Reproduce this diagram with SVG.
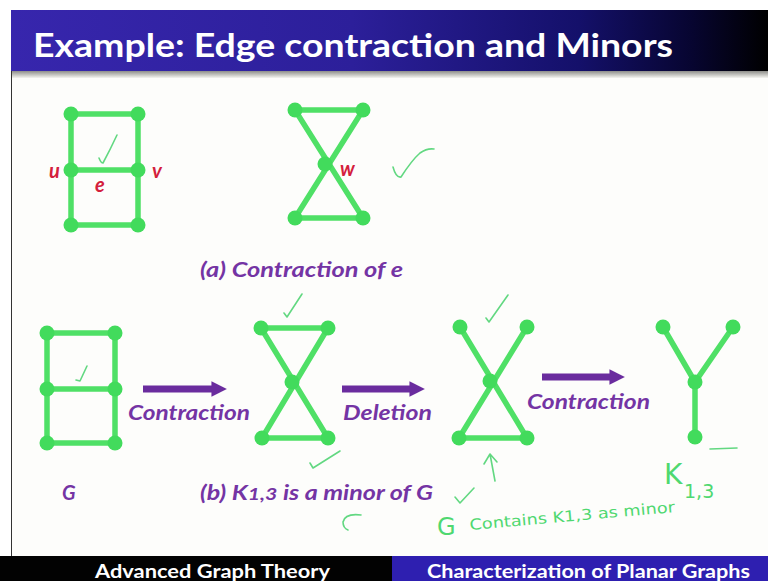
<svg xmlns="http://www.w3.org/2000/svg" width="768" height="581" viewBox="0 0 768 581">
<defs>
<linearGradient id="tg" x1="0" y1="0" x2="1" y2="0">
<stop offset="0" stop-color="#3726ad"/>
<stop offset="0.45" stop-color="#2c1f9a"/>
<stop offset="0.75" stop-color="#14106a"/>
<stop offset="0.9" stop-color="#070530"/>
<stop offset="1" stop-color="#000000"/>
</linearGradient>
<linearGradient id="sg" x1="0" y1="0" x2="0" y2="1">
<stop offset="0" stop-color="#8e8e8a"/>
<stop offset="1" stop-color="#f4f4f0"/>
</linearGradient>
<marker id="ah" viewBox="0 0 10 10" refX="1" refY="5" markerWidth="2.2" markerHeight="2.6" orient="auto" markerUnits="strokeWidth">
<path d="M0,0 L10,5 L0,10 Z" fill="#6a2c9e"/>
</marker>
</defs>
<style>
.e{stroke:#4fe066;stroke-width:5.5;stroke-linecap:round;fill:none}
.n{fill:#42db5c}
.lbl{font-family:Lato,"Liberation Sans",sans-serif;font-style:italic;font-weight:bold;fill:#7434a4}
.red{font-family:Lato,"Liberation Sans",sans-serif;font-style:italic;font-weight:bold;fill:#d4203c}
.hw{stroke:#62d881;stroke-width:1.6;fill:none;stroke-linecap:round;stroke-linejoin:round}
.hwt{font-family:"DejaVu Sans","Liberation Sans",sans-serif;fill:#4fd870}
.arr{stroke:#6a2c9e;stroke-width:7;fill:none}
.bar{font-family:Lato,"Liberation Sans",sans-serif;font-weight:bold;fill:#ffffff}
</style>
<rect x="0" y="0" width="768" height="581" fill="#ffffff"/>
<rect x="11" y="10" width="757" height="546" fill="#fdfdfb"/>
<line x1="11.5" y1="10" x2="11.5" y2="556" stroke="#333" stroke-width="1"/>
<rect x="11" y="10" width="757" height="61" fill="url(#tg)"/>
<rect x="12" y="71" width="756" height="7" fill="url(#sg)"/>
<text x="33" y="57" font-family="Lato,'Liberation Sans',sans-serif" font-weight="bold" font-size="33" fill="#ffffff" textLength="640" lengthAdjust="spacingAndGlyphs">Example: Edge contraction and Minors</text>

<g id="connectors">
<line class="arr" x1="143" y1="389" x2="213" y2="389" marker-end="url(#ah)"/>
<line class="arr" x1="342" y1="389" x2="411" y2="389" marker-end="url(#ah)"/>
<line class="arr" x1="542" y1="377" x2="611" y2="377" marker-end="url(#ah)"/>
</g>

<g id="graph-a-left">
<path class="e" d="M71,114 H138 V225 H71 Z M71,170 H138"/>
<circle class="n" cx="71" cy="114" r="7.5"/><circle class="n" cx="138" cy="114" r="7.5"/>
<circle class="n" cx="71" cy="170" r="7.5"/><circle class="n" cx="138" cy="170" r="7.5"/>
<circle class="n" cx="71" cy="225" r="7.5"/><circle class="n" cx="138" cy="225" r="7.5"/>
<text class="red" x="49" y="178" font-size="20">u</text>
<text class="red" x="95" y="192" font-size="20">e</text>
<text class="red" x="152" y="178" font-size="20">v</text>
</g>

<g id="graph-a-right">
<path class="e" d="M295,110 H363 L295,218 H363 Z"/>
<circle class="n" cx="295" cy="110" r="7.5"/><circle class="n" cx="363" cy="110" r="7.5"/>
<circle class="n" cx="325" cy="164" r="7.5"/>
<circle class="n" cx="295" cy="218" r="7.5"/><circle class="n" cx="363" cy="218" r="7.5"/>
<text class="red" x="340" y="176" font-size="20">w</text>
</g>

<text class="lbl" x="200" y="277" font-size="20" textLength="203" lengthAdjust="spacingAndGlyphs">(a) Contraction of e</text>

<g id="graph-G">
<path class="e" d="M47,333 H115 V443 H47 Z M47,389 H115"/>
<circle class="n" cx="47" cy="333" r="7.5"/><circle class="n" cx="115" cy="333" r="7.5"/>
<circle class="n" cx="47" cy="389" r="7.5"/><circle class="n" cx="115" cy="389" r="7.5"/>
<circle class="n" cx="47" cy="443" r="7.5"/><circle class="n" cx="115" cy="443" r="7.5"/>
</g>

<g id="graph-hourglass">
<path class="e" d="M261,328 H328 L262,438 H328 Z"/>
<circle class="n" cx="261" cy="328" r="7.5"/><circle class="n" cx="328" cy="328" r="7.5"/>
<circle class="n" cx="292" cy="382" r="7.5"/>
<circle class="n" cx="262" cy="438" r="7.5"/><circle class="n" cx="328" cy="438" r="7.5"/>
</g>

<g id="graph-X">
<path class="e" d="M460,327 L527,438 H459 L527,327"/>
<circle class="n" cx="460" cy="327" r="7.5"/><circle class="n" cx="527" cy="327" r="7.5"/>
<circle class="n" cx="490" cy="381" r="7.5"/>
<circle class="n" cx="459" cy="438" r="7.5"/><circle class="n" cx="527" cy="438" r="7.5"/>
</g>

<g id="graph-Y">
<path class="e" d="M663,327 L695,382 L733,327 M695,382 V437"/>
<circle class="n" cx="663" cy="327" r="7.5"/><circle class="n" cx="733" cy="327" r="7.5"/>
<circle class="n" cx="695" cy="382" r="7.5"/><circle class="n" cx="695" cy="437" r="7.5"/>
</g>

<text class="lbl" x="128" y="420" font-size="20" textLength="122" lengthAdjust="spacingAndGlyphs">Contraction</text>
<text class="lbl" x="343" y="420" font-size="20" textLength="89" lengthAdjust="spacingAndGlyphs">Deletion</text>
<text class="lbl" x="527" y="409" font-size="20" textLength="123" lengthAdjust="spacingAndGlyphs">Contraction</text>
<text class="lbl" x="62" y="500" font-size="20">G</text>
<text class="lbl" x="200" y="500" font-size="20" textLength="233" lengthAdjust="spacingAndGlyphs">(b) K<tspan font-size="17">1,3</tspan> is a minor of G</text>

<g id="annotations">
<path class="hw" d="M99,158 Q101,163 103,163 Q110,150 117,135"/>
<path class="hw" d="M393,167 Q396,178 401,177 Q412,160 420,153 Q427,148 434,149"/>
<path class="hw" d="M76,380 L80,381 L87,366"/>
<path class="hw" d="M284,313 L287,317 L302,294"/>
<path class="hw" d="M310,463 L313,468 L340,451"/>
<path class="hw" d="M361,515 Q345,513 343,522 Q343,528 348,530"/>
<path class="hw" d="M486,318 L489,322 L508,295"/>
<path class="hw" d="M495,481 L490,454 M484,464 L490,454 L497,462"/>
<path class="hw" d="M455,497 L460,503 L474,488"/>
<path class="hw" d="M710,449 L737,448"/>
<text class="hwt" x="664" y="484" font-size="28">K</text>
<text class="hwt" x="684" y="498" font-size="19">1,3</text>
<text class="hwt" x="437" y="535" font-size="24">G</text>
<text class="hwt" x="470" y="530" font-size="15" transform="rotate(-5 470 530)" textLength="206" lengthAdjust="spacingAndGlyphs">Contains K1,3 as minor</text>
</g>

<rect x="0" y="556" width="392" height="25" fill="#020202"/>
<rect x="392" y="556" width="376" height="25" fill="#2e1fb0"/>
<text class="bar" x="95" y="578" font-size="18" textLength="235" lengthAdjust="spacingAndGlyphs">Advanced Graph Theory</text>
<text class="bar" x="427" y="578" font-size="18" textLength="323" lengthAdjust="spacingAndGlyphs">Characterization of Planar Graphs</text>
</svg>
